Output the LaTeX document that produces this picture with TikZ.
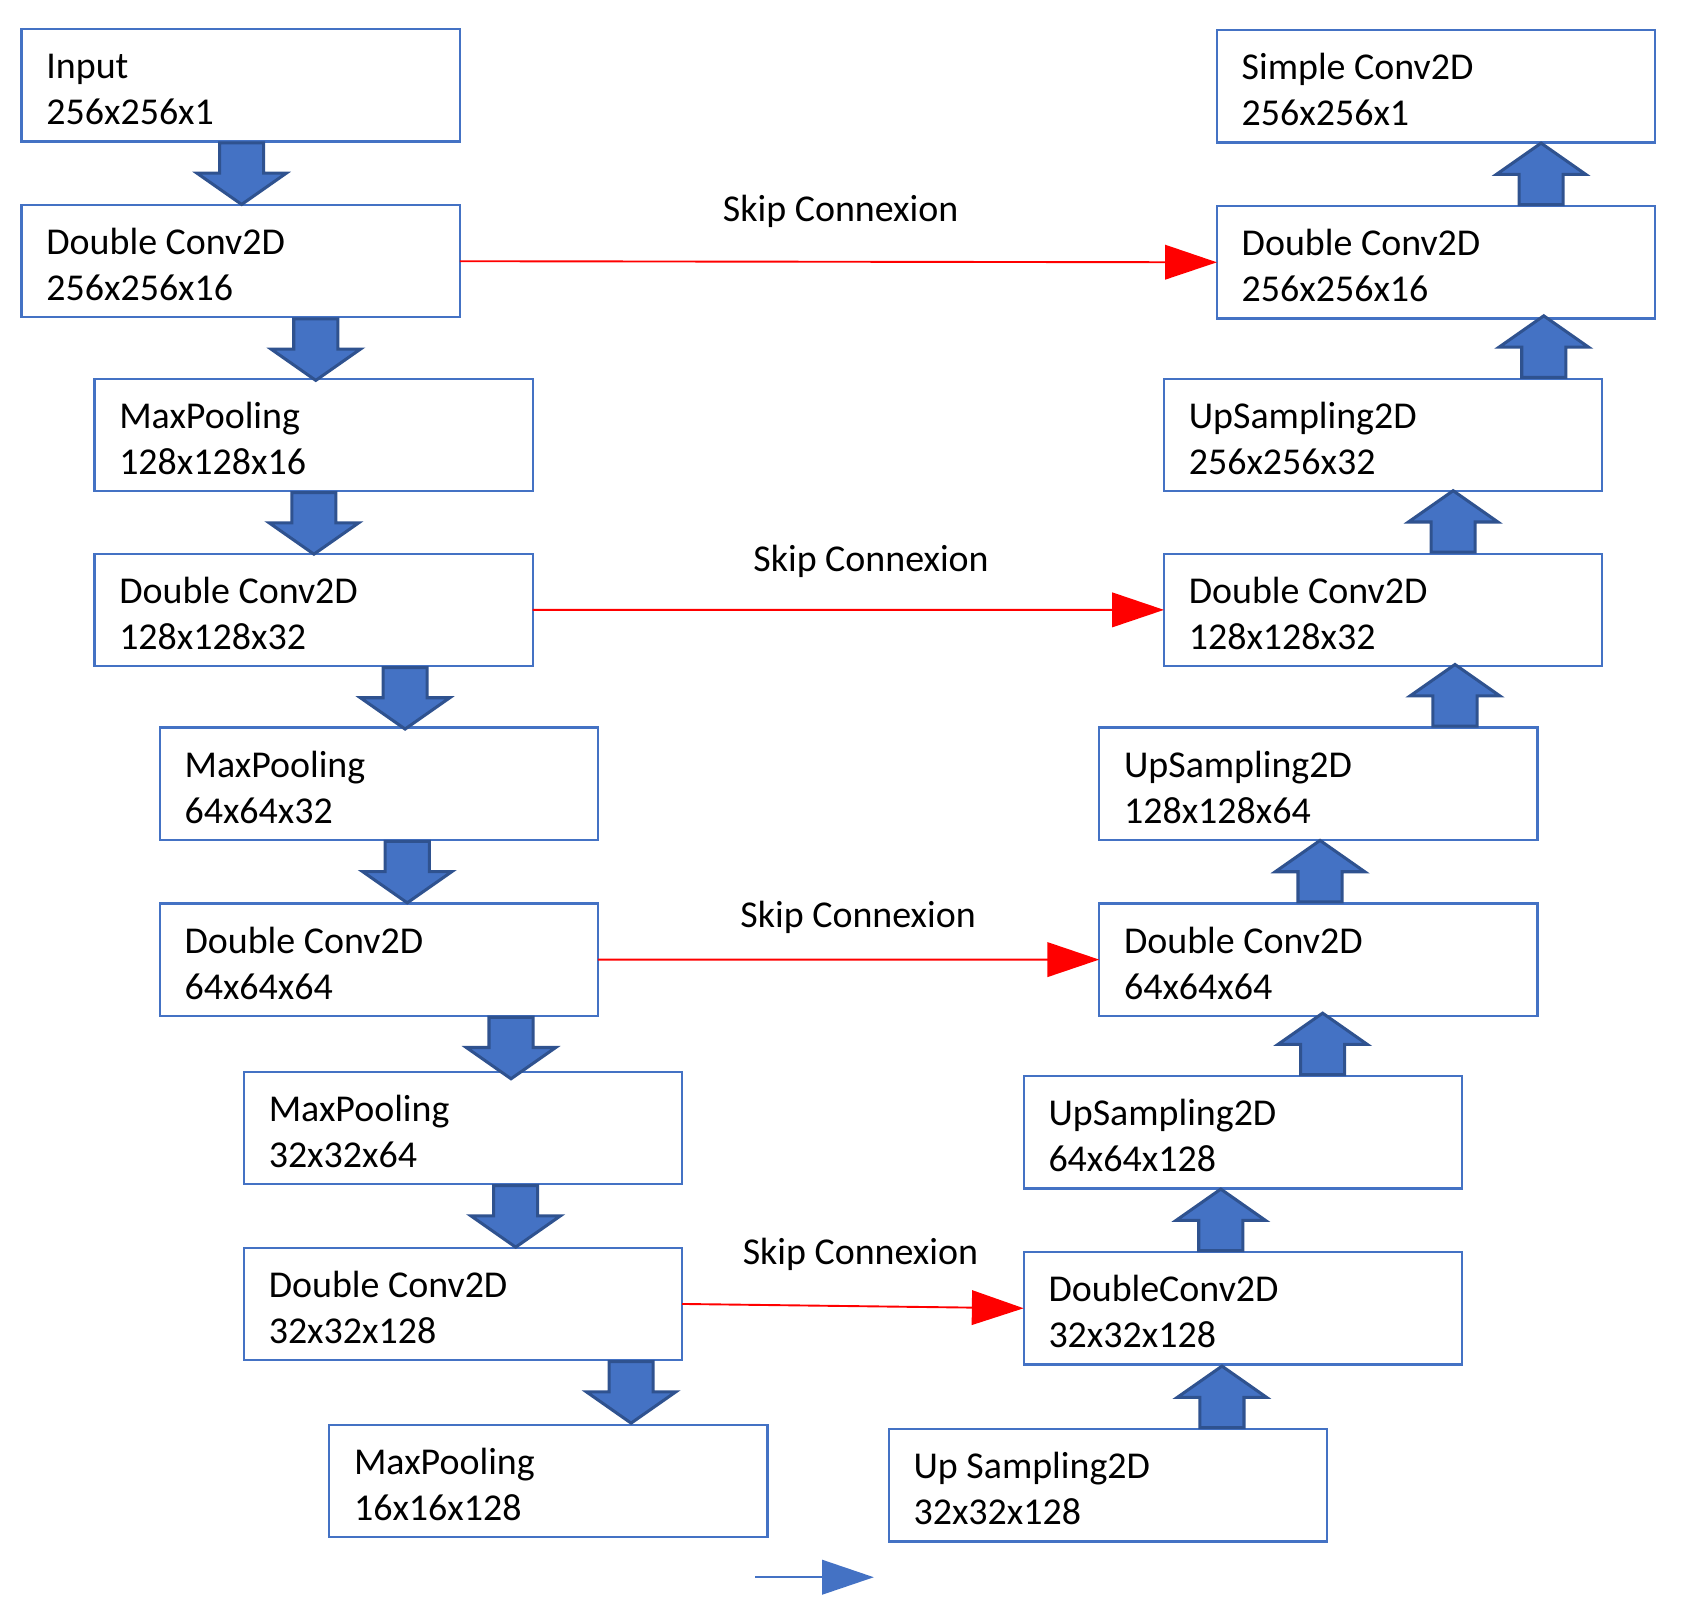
\documentclass[tikz,border=0pt]{standalone}
\usepackage{fontspec}
\setmainfont{Carlito}
\usepackage{tikz}
\usetikzlibrary{positioning,shapes,arrows.meta}
\definecolor{boxblue}{HTML}{4472C4}
\definecolor{arrowedge}{HTML}{2F528F}

\begin{document}
\begin{tikzpicture}[
x=0.01cm, y=-0.01cm,
layer/.style={draw=boxblue, line width=0.6pt, outer sep=0pt, text width=3.60cm, inner xsep=0.23cm, inner ysep=0pt, text height=0.46cm, text depth=0.58cm, align=flush left, font=\fontsize{10}{12.1}\selectfont},
downarrow/.style={single arrow, shape border rotate=270, draw=arrowedge, fill=boxblue, line width=0.8pt, minimum width=0.80cm, minimum height=0.57cm, single arrow head extend=0.21cm, single arrow tip angle=110, inner sep=0.19cm, anchor=tail},
uparrow/.style={downarrow, shape border rotate=90},
skip/.style={draw=red, line width=0.5pt, -{Triangle[length=0.48cm, width=0.32cm]}},
skiplabel/.style={inner sep=0pt, text depth=0pt, font=\fontsize{10}{12}\selectfont},
]

\useasboundingbox (0,0) rectangle (1561,1490);

% encoder
\node[layer, anchor=north west] (in) at (20,27) {Input\\256x256x1};
\node[layer, below right=0.59cm and 0cm of in.south west] (dc1) {Double Conv2D\\256x256x16};
\node[layer, below right=0.57cm and 0.675cm of dc1.south west] (mp1) {MaxPooling\\128x128x16};
\node[layer, below right=0.58cm and 0cm of mp1.south west] (dc2) {Double Conv2D\\128x128x32};
\node[layer, below right=0.57cm and 0.605cm of dc2.south west] (mp2) {MaxPooling\\64x64x32};
\node[layer, below right=0.59cm and 0cm of mp2.south west] (dc3) {Double Conv2D\\64x64x64};
\node[layer, below right=0.52cm and 0.78cm of dc3.south west] (mp3) {MaxPooling\\32x32x64};
\node[layer, below right=0.59cm and 0cm of mp3.south west] (dc4) {Double Conv2D\\32x32x128};
\node[layer, below right=0.60cm and 0.79cm of dc4.south west] (mp4) {MaxPooling\\16x16x128};

% decoder
\node[layer, anchor=north west] (out) at (1128,28) {Simple Conv2D\\256x256x1};
\node[layer, below right=0.59cm and 0cm of out.south west] (udc1) {Double Conv2D\\256x256x16};
\node[layer, below left=0.56cm and 0.49cm of udc1.south east] (us1) {UpSampling2D\\256x256x32};
\node[layer, below left=0.58cm and 0cm of us1.south east] (udc2) {Double Conv2D\\128x128x32};
\node[layer, below left=0.57cm and 0.60cm of udc2.south east] (us2) {UpSampling2D\\128x128x64};
\node[layer, below left=0.59cm and 0cm of us2.south east] (udc3) {Double Conv2D\\64x64x64};
\node[layer, below left=0.56cm and 0.70cm of udc3.south east] (us3) {UpSampling2D\\64x64x128};
\node[layer, below left=0.59cm and 0cm of us3.south east] (udc4) {DoubleConv2D\\32x32x128};
\node[layer, below left=0.60cm and 1.25cm of udc4.south east] (us4) {Up Sampling2D\\32x32x128};

% block arrows
\node[downarrow] (a1) at (224,0 |- in.south) {};
\node[downarrow] (a2) at (292.7,0 |- dc1.south) {};
\node[downarrow] (a3) at (291,0 |- mp1.south) {};
\node[downarrow] (a4) at (375.5,0 |- dc2.south) {};
\node[downarrow] (a5) at (377.5,0 |- mp2.south) {};
\node[downarrow] (a6) at (473.7,0 |- dc3.south) {};
\node[downarrow] (a7) at (478,0 |- mp3.south) {};
\node[downarrow] (a8) at (585,0 |- dc4.south) {};

\node[uparrow] (u1) at (1428.5,0 |- udc1.north) {};
\node[uparrow] (u2) at (1431,0 |- us1.north) {};
\node[uparrow] (u3) at (1347,0 |- udc2.north) {};
\node[uparrow] (u4) at (1348.7,0 |- us2.north) {};
\node[uparrow] (u5) at (1223.6,0 |- udc3.north) {};
\node[uparrow] (u6) at (1226,0 |- us3.north) {};
\node[uparrow] (u7) at (1131.6,0 |- udc4.north) {};
\node[uparrow] (u8) at (1132.7,0 |- us4.north) {};

% skip connexions
\draw[skip] (dc1.east) -- node[skiplabel, pos=0.503, above=0.36cm] {Skip Connexion} (udc1.west);
\draw[skip] (dc2.east) -- node[skiplabel, pos=0.536, above=0.35cm] {Skip Connexion} (udc2.west);
\draw[skip] (dc3.east) -- node[skiplabel, pos=0.519, above=0.29cm] {Skip Connexion} (udc3.west);
\draw[skip] (dc4.east) -- node[skiplabel, pos=0.522, above=0.38cm] {Skip Connexion} (udc4.west);

\coordinate (legs) at (700,1462);
\coordinate (lege) at (810,1462);
\draw[draw=boxblue, line width=0.6pt, -{Triangle[length=0.48cm, width=0.32cm]}] (legs) -- (lege);

\end{tikzpicture}
\end{document}
